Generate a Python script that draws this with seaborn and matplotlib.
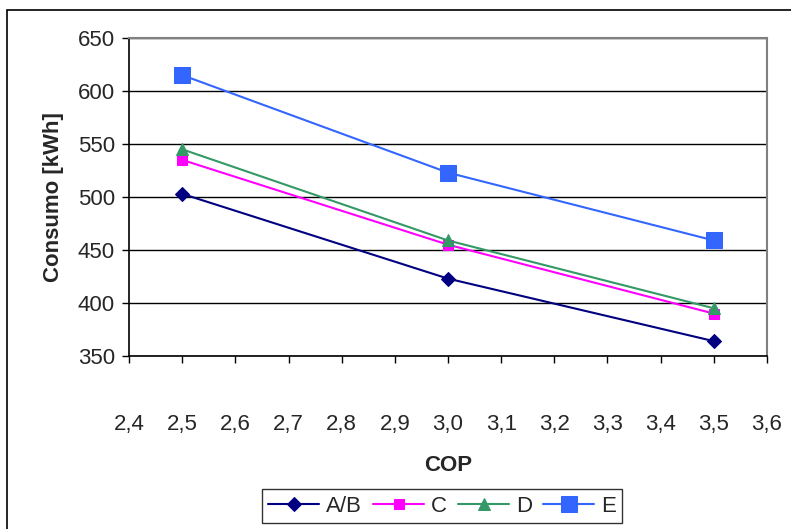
import matplotlib
matplotlib.use("Agg")
import matplotlib.pyplot as plt
from matplotlib.patches import Rectangle
from matplotlib.ticker import FuncFormatter
import pandas as pd
import seaborn as sns

# COP values and energy consumption for each building class
cop = [2.5, 3.0, 3.5]
consumo_ab = [503, 423, 364]
consumo_c = [535, 455, 390]
consumo_d = [545, 459, 395]
consumo_e = [615, 523, 459]

series = ['A/B', 'C', 'D', 'E']
colors = ['#000080', '#FF00FF', '#339966', '#3366FF']
markers = ['D', 's', '^', 's']
msizes = [7, 7, 9, 12]

df = pd.DataFrame({
    'COP': cop * 4,
    'Consumo': consumo_ab + consumo_c + consumo_d + consumo_e,
    'serie': [s for s in series for _ in cop],
})

sns.set_style('white')
plt.rcParams['font.family'] = ['Liberation Sans', 'DejaVu Sans']
fs = 16

fig = plt.figure(figsize=(7.91, 5.29), dpi=100)
ax = fig.add_axes([129 / 791, 1 - 356 / 529, (767 - 129) / 791, (356 - 38) / 529])

for s, c, m, ms in zip(series, colors, markers, msizes):
    sub = df[df['serie'] == s]
    sns.lineplot(data=sub, x='COP', y='Consumo', ax=ax, color=c, marker=m,
                 markersize=ms, markeredgecolor=c, linewidth=1.5, label=s)

ax.set_xlim(2.4, 3.6)
ax.set_ylim(350, 650)
ax.set_xticks([2.4 + 0.1 * i for i in range(13)])
ax.set_yticks(range(350, 651, 50))
ax.xaxis.set_major_formatter(FuncFormatter(lambda v, p: f'{v:.1f}'.replace('.', ',')))
ax.yaxis.grid(True, color='black', linewidth=1)
ax.set_axisbelow(True)

for side in ['left', 'bottom']:
    ax.spines[side].set_color('black')
    ax.spines[side].set_linewidth(1.2)
for side in ['top', 'right']:
    ax.spines[side].set_color('#808080')
    ax.spines[side].set_linewidth(1.5)

ax.tick_params(axis='x', direction='out', length=5, width=1, color='black',
               pad=37, labelsize=fs, bottom=True)
ax.tick_params(axis='y', direction='out', length=5, width=1, color='black',
               pad=5, labelsize=fs, left=True)

ax.set_xlabel('COP', fontsize=fs, fontweight='bold', labelpad=14)
ax.set_ylabel('Consumo [kWh]', fontsize=fs, fontweight='bold', labelpad=10)

ax.get_legend().remove()
handles, labels = ax.get_legend_handles_labels()
leg = fig.legend(handles, labels, loc='center', ncol=4,
                 bbox_to_anchor=(442 / 791, 1 - 506 / 529), frameon=True,
                 fancybox=False, edgecolor='black', fontsize=fs,
                 handlelength=2.3, handletextpad=0.3, columnspacing=0.5,
                 borderpad=0.3, borderaxespad=0)
leg.get_frame().set_linewidth(1)

fig.patches.append(Rectangle((7 / 791, -0.1), 1.2, 1 - 10 / 529 + 0.1,
                             transform=fig.transFigure, fill=False,
                             edgecolor='black', linewidth=1.2, zorder=0))

fig.savefig('out.png', dpi=100)
